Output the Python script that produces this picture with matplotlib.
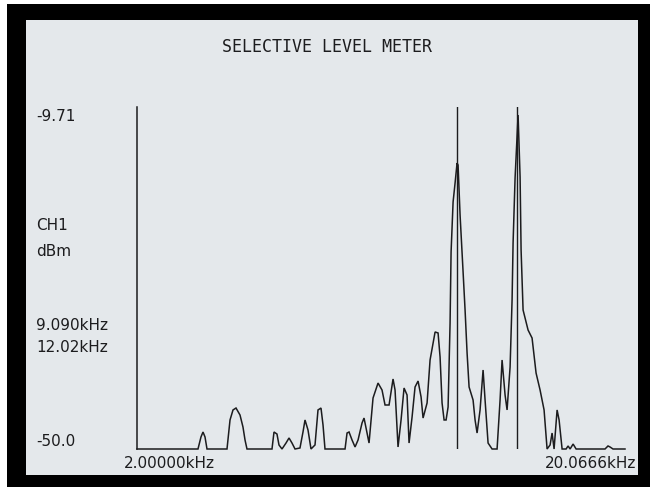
import matplotlib
matplotlib.use("Agg")
import matplotlib.pyplot as plt
from matplotlib.patches import Rectangle

freq_khz = [2.000, 2.668, 2.706, 2.732, 2.758, 2.784,
            3.060, 3.104, 3.148, 3.193, 3.254, 3.300, 3.332, 3.363,
            3.785, 3.821, 3.875, 3.912, 3.968, 4.044, 4.102, 4.160, 4.220, 4.320,
            4.382, 4.424, 4.487, 4.551, 4.638, 4.704, 4.771, 4.817, 4.862,
            5.345, 5.396, 5.447, 5.525, 5.604, 5.684, 5.792, 5.847, 5.931, 5.987,
            6.101, 6.247, 6.366, 6.457, 6.581, 6.706, 6.770, 6.866, 6.965, 7.064,
            7.165, 7.233, 7.337, 7.441, 7.548, 7.656, 7.728, 7.876, 7.988, 8.180,
            8.296, 8.375, 8.454, 8.535, 8.616, 8.698, 8.780, 8.822, 8.906, 8.990,
            9.075, 9.118, 9.205, 9.337, 9.425, 9.515, 9.605, 9.788, 9.881, 9.975,
            10.117, 10.262, 10.359, 10.507, 10.708, 10.964, 11.120, 11.226, 11.386,
            11.494, 11.659, 11.769, 11.825, 11.937, 12.108, 12.223, 12.281, 12.397,
            12.693, 12.935, 13.182, 13.434, 13.690, 13.886, 14.085, 14.218, 14.353,
            14.559, 14.697, 14.907, 15.191, 15.335, 15.481, 15.702, 15.927,
            18.258, 18.519, 18.695, 18.962, 20.0666]
level_dbm = [-50.0, -50.0, -48.57, -47.98, -48.57, -50.0,
             -50.0, -46.55, -45.36, -45.13, -45.96, -47.39, -48.93, -50.0,
             -50.0, -47.98, -48.22, -49.52, -50.0, -49.29, -48.69, -49.29, -50.0, -49.88,
             -47.98, -46.55, -47.74, -50.0, -49.52, -45.36, -45.13, -47.15, -50.0,
             -50.0, -48.10, -47.98, -48.93, -49.76, -48.93, -46.91, -46.32, -48.10, -49.29,
             -43.94, -42.16, -42.99, -44.77, -44.77, -41.68, -42.99, -49.76, -46.55, -42.75,
             -43.58, -49.29, -46.20, -42.63, -41.92, -43.82, -46.32, -44.53, -39.42, -36.09,
             -36.21, -39.07, -44.53, -46.55, -46.55, -45.01, -35.03, -26.59, -20.64, -18.39,
             -16.01, -16.25, -22.19, -28.96, -33.48, -38.59, -42.63, -44.18, -46.55, -48.10,
             -45.36, -40.61, -44.18, -49.29, -50.0, -50.0, -44.18, -39.42, -43.58,
             -45.36, -40.25, -32.29, -25.52, -17.79, -10.30, -17.67, -26.35, -33.48,
             -35.86, -36.81, -40.97, -42.99, -45.36, -50.0, -49.52, -48.10, -50.0,
             -45.36, -46.55, -50.0, -50.0, -49.64, -50.0, -49.41, -50.0,
             -50.0, -49.64, -49.76, -50.0, -50.0]

marker_khz = [9.090, 12.02]
marker_labels = ["9.090kHz", "12.02kHz"]
start_label = "2.00000kHz"
stop_label = "20.0666kHz"
f_start, f_stop = 2.0, 20.0666
ref_level, bottom_level = -9.71, -50.0
title = "SELECTIVE LEVEL METER"

W, H = 650, 487
fig = plt.figure(figsize=(W / 100, H / 100), dpi=100, facecolor="white")

def fx(px):
    return px / W

def fy(py):
    return 1 - py / H

# bezel and screen
fig.patches.append(Rectangle((fx(7), 0), 1 - fx(7), fy(4), transform=fig.transFigure,
                             facecolor="black", edgecolor="none", zorder=-2))
fig.patches.append(Rectangle((fx(26), fy(475)), fx(638) - fx(26), fy(20) - fy(475),
                             transform=fig.transFigure, facecolor="#e4e8eb",
                             edgecolor="none", zorder=-1))

ink = "#1c1c1e"
ax = fig.add_axes([fx(137), fy(449), fx(625) - fx(137), fy(107) - fy(449)])
ax.set_zorder(3)
ax.set_facecolor("none")
ax.set_xscale("log")
ax.set_xlim(f_start, f_stop)
ax.set_ylim(bottom_level, -9.35)
for s in ["top", "right", "bottom"]:
    ax.spines[s].set_visible(False)
ax.spines["left"].set_color(ink)
ax.spines["left"].set_linewidth(1.1)
ax.set_xticks([])
ax.set_yticks([])
ax.minorticks_off()
ax.tick_params(which="both", length=0, labelbottom=False, labelleft=False)

ax.plot(freq_khz, level_dbm, color=ink, lw=1.1, clip_on=False, solid_joinstyle="miter")
for m in marker_khz:
    ax.axvline(m, color=ink, lw=1.0)

font = dict(family="DejaVu Sans", size=11, color=ink)
fig.text(0.5 * (fx(220) + fx(435)), fy(51.5), title, ha="center", va="baseline",
         family="DejaVu Sans Mono", size=12, color=ink, zorder=4)
fig.text(fx(36), fy(121), f"{ref_level:.2f}", ha="left", va="baseline", **font)
fig.text(fx(36), fy(230.5), "CH1", ha="left", va="baseline", **font)
fig.text(fx(36), fy(255.5), "dBm", ha="left", va="baseline", **font)
fig.text(fx(36), fy(330.5), marker_labels[0], ha="left", va="baseline", **font)
fig.text(fx(36), fy(351.5), marker_labels[1], ha="left", va="baseline", **font)
fig.text(fx(36), fy(446), f"{bottom_level:.1f}", ha="left", va="baseline", **font)
fig.text(fx(124), fy(467.5), start_label, ha="left", va="baseline", **font)
fig.text(fx(545), fy(467.5), stop_label, ha="left", va="baseline", **font)

fig.savefig("out.png", dpi=100, facecolor="white")
